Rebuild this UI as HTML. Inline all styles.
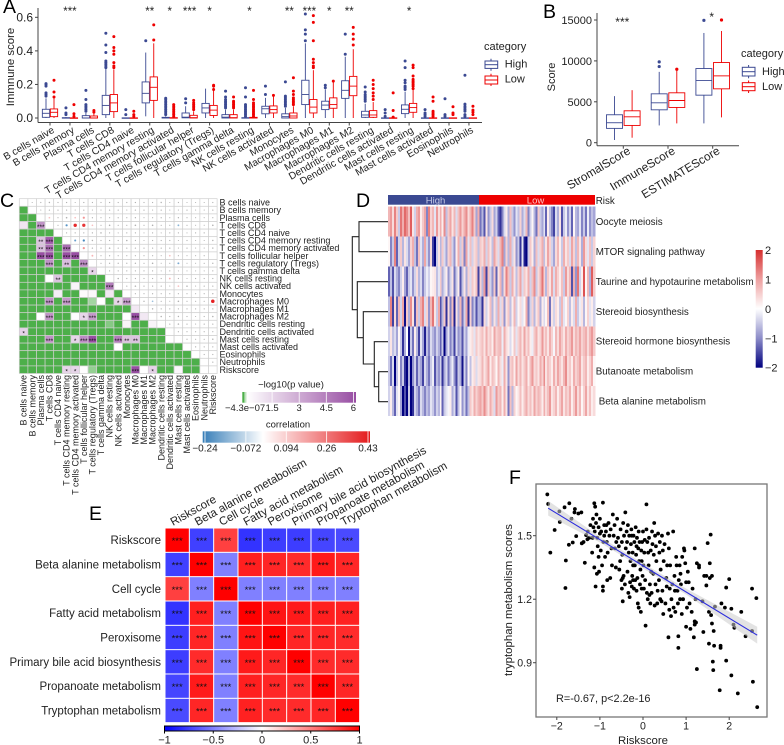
<!DOCTYPE html>
<html lang="en">
<head>
<meta charset="utf-8">
<title>Immune and metabolism panel figure</title>
<style>
html,body{margin:0;padding:0;background:#fff;}
body{width:784px;height:745px;overflow:hidden;}
svg{display:block;font-family:"Liberation Sans",Arial,sans-serif;filter:blur(0.3px);}
text{fill:#222;}
.letter{font-size:19.5px;fill:#000;}
</style>
</head>
<body>
<svg id="figure" xmlns="http://www.w3.org/2000/svg" width="784" height="745" viewBox="0 0 784 745">
  <defs>
    <linearGradient id="pGrad" x1="0" x2="1" y1="0" y2="0">
      <stop offset="0" stop-color="#4daf4a"/><stop offset="0.022" stop-color="#4daf4a"/><stop offset="0.04" stop-color="#ffffff"/><stop offset="1" stop-color="#984ea3"/>
    </linearGradient>
    <linearGradient id="corrGrad" x1="0" x2="1" y1="0" y2="0">
      <stop offset="0" stop-color="#377eb8"/><stop offset="0.36" stop-color="#ffffff"/><stop offset="1" stop-color="#e41a1c"/>
    </linearGradient>
    <linearGradient id="heatGrad" x1="0" x2="0" y1="0" y2="1">
      <stop offset="0" stop-color="#d62f2f"/><stop offset="0.25" stop-color="#eea0a0"/><stop offset="0.5" stop-color="#ffffff"/><stop offset="0.75" stop-color="#8c8cc8"/><stop offset="1" stop-color="#00007f"/>
    </linearGradient>
    <linearGradient id="eGrad" x1="0" x2="1" y1="0" y2="0">
      <stop offset="0" stop-color="#0000ff"/><stop offset="0.5" stop-color="#ffffff"/><stop offset="1" stop-color="#ff0000"/>
    </linearGradient>
  </defs>

  <text class="letter" x="3" y="13">A</text>
  <text class="letter" x="543" y="18">B</text>
  <text class="letter" x="0" y="207">C</text>
  <text class="letter" x="356" y="207">D</text>
  <text class="letter" x="89" y="520">E</text>
  <text class="letter" x="509" y="484">F</text>

  <g id="panelA">
    <line x1="38" y1="8" x2="38" y2="122.5" stroke="#444"/>
    <line x1="38" y1="122.5" x2="482" y2="122.5" stroke="#444"/>
    <text transform="translate(14,67) rotate(-90)" text-anchor="middle" font-size="11.4">Immnune score</text>
    <text x="484" y="50" font-size="11">category</text>
    <g>
      <line x1="491" x2="491" y1="58.7" y2="70.7" stroke="#3b4992"/><rect x="485" y="61" width="12.7" height="7.4" fill="#fff" stroke="#3b4992"/><line x1="485" x2="497.7" y1="64.7" y2="64.7" stroke="#3b4992"/>
      <text x="504.7" y="67.7" font-size="11">High</text>
    </g>
    <g>
      <line x1="491" x2="491" y1="73.7" y2="86" stroke="#ee0000"/><rect x="485" y="76" width="12.7" height="8" fill="#fff" stroke="#ee0000"/><line x1="485" x2="497.7" y1="80" y2="80" stroke="#ee0000"/>
      <text x="504.7" y="82.7" font-size="11">Low</text>
    </g>
  </g>

  <g id="panelB">
    <line x1="597" y1="13" x2="597" y2="145.7" stroke="#444"/>
    <line x1="597" y1="145.7" x2="739" y2="145.7" stroke="#444"/>
    <text transform="translate(555,77) rotate(-90)" text-anchor="middle" font-size="11">Score</text>
    <text x="741" y="57" font-size="11">category</text>
    <g>
      <line x1="748.6" x2="748.6" y1="65" y2="78.3" stroke="#3b4992"/><rect x="742.3" y="67.3" width="12.7" height="8.7" fill="#fff" stroke="#3b4992"/><line x1="742.3" x2="755" y1="71.7" y2="71.7" stroke="#3b4992"/>
      <text x="762" y="75" font-size="11">High</text>
    </g>
    <g>
      <line x1="748.6" x2="748.6" y1="80.5" y2="93" stroke="#ee0000"/><rect x="742.3" y="82.7" width="12.7" height="8" fill="#fff" stroke="#ee0000"/><line x1="742.3" x2="755" y1="86.7" y2="86.7" stroke="#ee0000"/>
      <text x="762" y="90" font-size="11">Low</text>
    </g>
  </g>

  <g id="panelC">
    <text x="291" y="387.7" text-anchor="middle" font-size="9.5">−log10(p value)</text>
    <rect x="242.3" y="392" width="113.7" height="10.7" fill="url(#pGrad)"/>
    <text x="288" y="427.7" text-anchor="middle" font-size="9.5">correlation</text>
    <rect x="202.7" y="431.3" width="167.3" height="11.4" fill="url(#corrGrad)"/>
  </g>

  <g id="panelD">
    <rect x="388" y="195" width="91" height="9.7" fill="#3b4992"/>
    <rect x="479" y="195" width="116" height="9.7" fill="#ee0000"/>
    <text x="435.5" y="203.5" text-anchor="middle" font-size="9.5" style="fill:#c8cce6">High</text>
    <text x="535.5" y="203.5" text-anchor="middle" font-size="9.5" style="fill:#ffc8c8">Low</text>
    <text x="595.7" y="204" font-size="9.8">Risk</text>
    <g fill="none" stroke="#222" stroke-width="1.1">
      <path d="M388 221.7H359V251.7H388"/>
      <path d="M388 371.7H378.7V401.7H388"/>
      <path d="M388 341.7H374.3V386.7H378.7"/>
      <path d="M388 311.7H363.3V364H374.3"/>
      <path d="M388 281.7H357.3V337.7H363.3"/>
      <path d="M359 236.7H352.3V309.7H357.3"/>
    </g>
    <rect x="755.7" y="250" width="7" height="117.7" fill="url(#heatGrad)"/>
  </g>

  <g id="panelE">
    <rect x="164.5" y="726" width="195" height="5" fill="url(#eGrad)" stroke="#000" stroke-width="1"/>
  </g>

  <g id="panelF">
    <rect x="536" y="484" width="231" height="233" fill="#fff" stroke="#777" stroke-width="1.3"/>
    <text x="643" y="744" text-anchor="middle" font-size="11.4">Riskscore</text>
    <text transform="translate(512,600) rotate(-90)" text-anchor="middle" font-size="11.4">tryptophan metabolism scores</text>
  </g>
  <text x="556" y="702" font-size="10.9">R=-0.67, p&lt;2.2e-16</text>
</svg>

<script>
// ---------- Panel A data ----------
const immuneCategories = ["B cells naive","B cells memory","Plasma cells","T cells CD8","T cells CD4 naive","T cells CD4 memory resting","T cells CD4 memory activated","T cells follicular helper","T cells regulatory (Tregs)","T cells gamma delta","NK cells resting","NK cells activated","Monocytes","Macrophages M0","Macrophages M1","Macrophages M2","Dendritic cells resting","Dendritic cells activated","Mast cells resting","Mast cells activated","Eosinophils","Neutrophils"];
const immuneTicks = [0, 0.2, 0.4, 0.6];
const immuneHighBoxes = [[0,.004,.028,.052,.117],[0,0,0,.002,.005],[0,0,0,.014,.03],[0,.02,.075,.135,.295],[0,0,0,.001,.002],[.01,.09,.147,.215,.39],[0,0,0,.004,.01],[0,.001,.005,.03,.07],[0,.03,.06,.087,.175],[0,0,.005,.02,.05],[0,0,0,.002,.005],[0,.025,.055,.07,.12],[0,0,.008,.025,.06],[0,.08,.14,.225,.445],[0,.05,.077,.1,.17],[0,.117,.165,.222,.365],[0,.004,.018,.04,.085],[0,0,0,.001,.002],[0,.026,.052,.078,.157],[0,0,0,.001,.002],[0,0,0,.001,.002],[0,0,0,.001,.002]];
const immuneLowBoxes = [[0,.008,.034,.054,.117],[0,0,0,.001,.002],[0,0,0,.012,.03],[0,.038,.09,.14,.29],[0,0,0,.001,.002],[0,.105,.183,.245,.445],[0,0,0,.002,.005],[0,0,.002,.016,.04],[0,.015,.047,.075,.18],[0,0,.002,.02,.05],[0,0,0,.004,.008],[0,.03,.05,.072,.13],[0,0,.012,.03,.07],[0,.03,.065,.11,.285],[0,.058,.08,.12,.22],[0,.133,.19,.248,.41],[0,.004,.018,.044,.095],[0,0,0,.001,.002],[0,.034,.062,.087,.167],[0,0,0,.001,.002],[0,0,0,.001,.002],[0,0,0,.001,.002]];
const immuneHighOutliers = [[.13,.14,.15,.19,.2,.205],[.02,.03,.06],[.04,.05,.06,.07,.08,.11,.165],[.3,.31,.32,.33,.34,.39,.435,.505],[.02,.05],[.46],[.02,.03,.04,.05,.06,.07,.08,.09,.1,.11,.118],[.09,.115],[],[.06,.07,.08,.09,.1,.11,.125,.16],[.01,.02,.03,.04,.05,.06,.07,.08,.125,.18],[.14,.19],[.07,.08,.09,.1,.11,.12,.13,.215],[.46,.5,.525,.62],[.18,.195],[.38,.5],[.1,.11,.12,.13,.14,.155,.185],[.01,.03,.05],[.17,.18,.19,.21,.225,.3,.34],[.01,.02,.03,.05],[.01,.02,.115],[.01,.02,.04,.05,.06,.07,.083,.255]];
const immuneLowOutliers = [[.125,.155,.225],[.01,.025,.08],[.035,.045],[.3,.31,.33,.38,.4,.42,.485],[.01,.02,.04],[.465,.555],[.01,.02,.03,.04,.05,.06,.07,.08],[.05,.06,.07,.08,.09,.105],[.17,.19,.195],[.06,.07,.08,.09,.1,.125],[.01,.02,.03,.04,.05,.06,.07,.08,.09,.11,.165],[.135],[.08,.09,.1,.11,.12,.14,.16,.24],[.3,.31,.33,.35,.46,.57,.61],[.22],[.435,.47,.5,.54],[.11,.13,.15,.175,.2,.225],[.005,.045,.15],[.175,.19,.2,.21,.22,.23,.25,.3,.315],[.01,.02,.03,.04,.1,.125],[.02,.03,.067],[.02,.035,.047,.07]];
const immuneStars = ["","***","","","","**","*","***","*","","*","","**","***","*","**","","","*","","",""];

// ---------- Panel B data ----------
const scoreCategories = ["StromalScore","ImmuneScore","ESTIMATEScore"];
const scoreTicks = [0, 5000, 10000, 15000];
const scoreHighBoxes = [[325,1750,2440,3415,5690],[2110,4020,4880,5975,8660],[2360,5810,7600,9065,13415]];
const scoreLowBoxes = [[610,2110,3170,3900,6420],[2360,4310,5160,6100,8985],[3090,6585,8170,9800,13660]];
const scoreHighOutliers = [[],[9310,9880],[14960]];
const scoreLowOutliers = [[],[8985],[15000]];
const scoreStars = ["***","","*"];

// ---------- Panel C data ----------
const matrixLabels = immuneCategories.concat(["Riskscore"]);
const logPValues = [[],[0],[0,0],[1.1,0,3.8],[0,0,0,0],[0,0,2.2,5.5,0],[0,0,2.3,5,0,5],[0,0,6,6,0,6,6],[0,0,0,3.8,0,2.4,0,4],[0,0,0,0,0,0,0,0,1.6],[0,0,0,.25,2.2,0,0,0,0,0],[0,0,0,0,0,0,.6,0,0,0,4.5],[0,0,0,0,.8,0,0,.4,.5,0,1,0],[0,0,0,3.8,0,3.6,0,0,.12,.25,0,1.6,3.5],[0,0,0,0,0,0,0,0,0,0,0,0,0,1],[0,0,.25,3.8,0,0,.3,1.6,3.6,0,0,0,.25,6,1],[0,0,0,0,0,0,0,0,0,0,.08,0,.6,0,0,.6],[1.7,0,0,0,0,0,0,0,0,0,0,0,0,0,0,0,0],[0,0,0,3.8,0,0,1.6,4,6,0,0,4.5,2.2,2.2,0,0,0,.25],[0,0,0,0,0,0,0,0,0,0,0,.25,0,0,0,0,0,0,0],[0,0,0,0,0,0,0,0,0,0,0,0,0,0,0,0,0,0,0,0],[0,0,0,0,0,0,0,0,0,0,0,0,0,0,0,0,0,0,0,0,0],[0,0,0,0,0,1.6,1.6,.3,.1,0,0,0,0,6,.25,1.7,0,0,.5,0,0,.25]];
const cellCorrelations = [
 [.02,.03,.08,.03,.05,.02,.05,.03,.03,.06,.03,.04,.06,.03,.03,.07,.02,.03,.02,.02,.02,.03],
 [.02,.04,.03,.03,.02,.04,.02,.02,.04,.03,.02,.05,.03,.02,.04,.02,.02,.03,.02,.02,.03],
 [.12,.03,.1,.12,.2,.04,.03,.03,.04,.03,.05,.02,.03,.04,.02,.05,.03,.02,.02,.03],
 [.03,-.2,.4,.38,.12,.03,.09,.03,.03,.1,.03,.1,.03,.03,-.14,.03,.02,.02,.1],
 [.03,.04,.03,.05,.09,.03,.02,.03,.04,.02,.03,.02,.03,.03,.02,.03,.04],
 [-.18,-.22,.08,.03,.05,.03,.1,.03,.02,.03,.03,.04,.02,.03,.02,.02,.07],
 [.2,.05,.03,.09,.03,.03,.04,.03,.03,.03,.05,.02,.03,.02,.02,.06],
 [.14,.03,.04,.03,.03,.03,.03,.03,.02,.12,.03,.02,.02,.03],
 [.03,.05,.05,.04,.07,.03,.1,.02,.03,-.16,.02,.02,.03,.06],
 [.03,.03,.03,.03,.03,.03,.02,.03,.02,.02,.02,.02,.03],
 [.1,.03,.04,.03,.03,.03,.14,.03,.02,.03,.03,.04],
 [.03,.09,.03,.03,.03,.02,.12,.09,.02,.03,.03],
 [.03,.03,.04,.03,.03,.03,.03,.02,.03,.05],
 [.07,-.12,.03,.02,.1,.03,.03,.03,.42],
 [.08,.03,.03,.03,.03,.03,.03,.05],
 [.09,.03,.07,.03,.02,.03,.09],
 [.03,.08,.03,.02,.03,.03],
 [.03,.03,.03,.03,.03],
 [.04,.03,.03,.08],
 [.05,.03,.03],
 [.03,.03],
 [.04],
 []
];
const pLegendTicks = [0, 1.5, 3, 4.5, 6];
const pLegendLabels = ["−4.3e−07","1.5","3","4.5","6"];
const corrLegendTicks = [-0.24, -0.072, 0.094, 0.26, 0.43];
const corrLegendLabels = ["−0.24","−0.072","0.094","0.26","0.43"];

// ---------- Panel D data ----------
const pathwayLabels = ["Oocyte meiosis","MTOR signaling pathway","Taurine and hypotaurine metabolism","Stereoid biosynthesis","Stereoid hormone biosynthesis","Butanoate metabolism","Beta alanine metabolism"];
const heatTicks = [2, 1, 0, -1, -2];
const oocyteRow = [.8,1.1,.4,1.3,.6,-.6,1.4,.9,1.5,1.2,.7,1.6,.3,-.5,.9,1.1,.2,.6,1,-1.2,1.3,.5,.8,-.3,1.1,.4,.9,.2,1.2,-.7,.6,1,.3,.8,-.4,.7,1.1,.5,.9,1.2,.4,.8,1.3,.6,-1,.9,
 -1.3,-.8,-1.5,.3,-1.1,-.6,.4,-1,-.5,-1.4,-1.7,-1.2,-.4,.2,-.9,.7,-.6,-1.1,-.3,-.7,.5,-.9,-.4,.8,-1.2,-.5,.1,-.8,-1.3,.6,-.6,-1,-.3,-1.4,.2,-.7,-1.2,-1.6,-.4,-.9,.3,-1.5,-.6,-.2,-1.1,-.5,-1.4,.1,-.8,-1,-.3,-1.2,-.6,-1.3,-.2,-1.1,-.7,-1];
const mtorRow = [.1,-1.2,-.6,1.3,-1.4,-.5,.6,-.8,.3,-.4,-1,.5,.9,-.7,-1.3,.7,-.3,-.9,1,-.5,-1.1,.4,-1.6,-2,-.6,.3,-.8,.6,-.4,-1,.5,.8,-.5,-1.1,.2,.9,-.6,.6,-1.2,1,-.3,.7,-.5,.4,.6,-.7,
 .6,.4,.9,-.5,.7,.3,-.7,1,.5,-.4,.8,1.3,-1,.5,-.8,.9,-.5,.3,-1.1,-.6,-1.7,-.3,-1.8,-2,-.6,.6,.2,-.9,.7,-.4,.5,.9,-.7,.3,1,.5,-.5,-1,.4,.8,.2,-.6,.9,.3,.6,-.4,1,.5,-.7,.8,.3,-.9,1.1,.4,-.3,.7,-.6,.5];
const taurineRow = [-1.4,-.7,-1.5,-.4,-.9,-1.2,-.5,.2,-1,-1.4,-.6,-.3,-1.1,-.5,.4,-.8,-.4,-1.2,-.6,-.2,-.5,.1,.2,.3,-.7,-.3,.6,-.9,-.4,.2,-1.1,-.5,.3,-1.3,-.6,.2,-1.5,-.7,.3,-.9,.5,-.4,.6,.3,.7,-1.6,
 .5,-.8,1.1,-1.6,.7,-.5,-1.1,.6,-1.4,.3,.8,-1,.4,1.3,.7,-.6,.9,.3,-.7,.5,1,-.4,.6,.3,.9,-.5,.7,1.2,-.6,.4,.8,1.4,.5,-.8,.6,.3,1,-.4,.9,.5,.2,.7,-.6,1.1,.4,.8,-1.5,.9,-1.1,1.4,-.5,.2,1.7,.1,.8,-.9,1.6,.6];
const steroidRow = [-.7,1.3,-1.6,.4,-1.4,.8,-.5,1,-1.9,.6,-.9,1.2,.3,-1.5,.7,-.6,.9,1.3,-.4,.5,-1.1,.8,1.4,.3,-.6,1,-1.5,-.8,.6,-1.7,.4,-1.2,.7,-1.8,.3,-.9,.8,-1.3,-.5,1,-1.7,.5,-1.2,-.6,-1.5,-.8,
 -.9,-1.7,.4,-.5,.2,.7,-.8,.3,-.6,.9,-.4,.5,-1.1,.3,.6,-.7,.2,.8,-.5,.1,.4,-.3,.1,.9,-1.2,-.5,.5,-.8,.3,.6,-.9,.2,-.4,.1,.7,-1.3,.3,-.5,.4,.2,-.6,.8,-.3,.1,.5,-.7,.2,-.4,.9,-.6,-.2,.3,-.8,.1,.5,-.3,.2,-.5];
const hormoneRow = [-.5,.3,-.7,-.4,-1,.1,-.6,-1.7,-.9,0,-1.9,-.6,-1.3,.2,-.8,-1.6,-.3,-1,-1.8,-.7,-1.2,-.4,-.8,-1.1,-.5,-.9,-1.4,-.6,-2,-1,-.3,-1.2,-.7,-1.6,-.4,-1.1,-.8,-1.5,-.5,-1,-.2,.2,.4,-.3,.6,.3,
 .5,.7,.3,.9,.4,.6,.2,1,.5,.7,.8,-.2,.9,.4,.2,-.4,.1,.6,-.3,.5,.8,.3,1,.4,.7,.2,-.2,.6,.9,.3,.5,1.1,.4,.7,.3,.9,.5,-.1,.8,.4,1,.6,.3,.9,.5,.7,1.1,.4,.8,.6,1,.5,.7,.9,.4,.8,1.1,.6];
const butanoateRow = [-.6,-1.3,-.4,-2,-.7,.1,-1.2,-.6,-1.7,-2,-.9,-2,-1.1,-.5,-1.4,-.7,-1,-1.6,-.4,-.9,-1.3,-.6,-.2,-1.5,-.8,-1.1,-.5,-1.7,-.9,-.4,-1.3,-.7,-.2,-1.1,-1.6,-.6,-.9,-1.9,-.5,-1.2,.1,-.7,.2,.4,-.4,.3,
 .4,.8,.3,.6,1,.2,.7,.5,.1,.8,.4,-.2,.9,.3,-1.1,.5,.7,.2,1,.4,.8,.3,.6,.9,.2,.7,1.1,.4,.6,.3,.9,.5,1.2,.3,.7,.5,.2,.9,.4,1,.6,.3,.8,1.2,.4,.6,.2,.9,.5,.7,1,.3,.6,.8,.2,.5,.9,.1];
const betaAlanineRow = [-.5,.2,-.8,-1.4,-.3,.1,-1,-2,-1.5,-2,-.6,-2,-1.7,-.5,-.9,-1.3,-.4,-.8,-1.2,-.7,-1,-.3,-.6,-1.1,-.5,-.8,.1,-1.4,-.6,-.3,-.1,.2,-.9,-.4,-1.5,-.7,.1,-1.1,-.5,-1.3,-.7,.6,.3,.9,.5,.8,
 1,.6,1.2,.7,.3,.9,.5,-.4,1.1,.6,.8,.2,.9,.3,-1.3,.7,-.8,.5,.1,.3,.7,.2,.6,.9,.4,.7,.3,1,.5,.8,.6,.2,.9,.4,.7,1.1,.3,.5,.8,.2,.6,1,.3,.7,.5,.9,.2,.6,1.1,.4,.8,.1,.5,1,.3,.7,.2,.4];
const pathwayRows = [oocyteRow, mtorRow, taurineRow, steroidRow, hormoneRow, butanoateRow, betaAlanineRow];

// ---------- Panel E data ----------
const metabolismLabels = ["Riskscore","Beta alanine metabolism","Cell cycle","Fatty acid metabolism","Peroxisome","Primary bile acid biosynthesis","Propanoate metabolism","Tryptophan metabolism"];
const metabolismCorr = [
 [1,-.75,.75,-.8,-.76,-.76,-.73,-.71],
 [-.75,1,-.5,.88,.85,.83,.9,.85],
 [.75,-.5,1,-.5,-.5,-.5,-.5,-.5],
 [-.8,.88,-.5,1,.92,.9,.88,.87],
 [-.76,.85,-.5,.92,1,.85,.85,.83],
 [-.76,.83,-.5,.9,.85,1,.83,.83],
 [-.73,.9,-.5,.88,.85,.83,1,.85],
 [-.71,.85,-.5,.87,.83,.83,.85,1]
];
const metabolismLegendTicks = [-1, -0.5, 0, 0.5, 1];

// ---------- Panel F data ----------
const riskTicks = [-2, -1, 0, 1, 2];
const tryptophanTicks = [0.9, 1.2, 1.5];
const fitX = [-2.2, 2.65];
const fitY = [1.63, 1.03];
const ribbonX = [-2.2, -1, 0, 1, 2.65];
const ribbonLow = [1.595, 1.468, 1.345, 1.222, 0.99];
const ribbonHigh = [1.665, 1.495, 1.37, 1.25, 1.07];
const scatterPairs = [[-2.22,1.695],[-2.2,1.65],[-1.94,1.615],[-1.93,1.565],[-1.82,1.634],[-1.71,1.653],[-1.66,1.58],[-1.58,1.626],[-1.59,1.61],[-1.5,1.605],[-1.43,1.61],[-2.05,1.527],[-2.15,1.42],[-1.79,1.383],[-1.8,1.253],[-1.72,1.457],[-1.63,1.468],[-1.55,1.498],[-1.42,1.464],[-1.38,1.47],[-1.35,1.372],[-1.32,1.503],[-1.29,1.483],[-1.13,1.653],[-1.11,1.637],[-.93,1.656],[.08,1.648],
[-1.28,1.52],[-1.25,1.49],[-1.22,1.55],[-1.18,1.42],[-1.17,1.49],[-1.16,1.58],[-1.15,1.54],[-1.13,1.35],[-1.12,1.52],[-1.1,1.26],[-1.09,1.56],[-1.08,1.6],[-1.07,1.32],[-1.06,1.49],[-1.05,1.45],[-1.03,1.4],[-1.03,1.54],[-1.02,1.33],[-1,1.58],[-1,1.51],
[-.98,1.43],[-.97,1.52],[-.95,1.36],[-.93,1.24],[-.93,1.26],[-.92,1.47],[-.9,1.55],[-.9,1.5],[-.88,1.4],[-.86,1.52],[-.84,1.47],[-.83,1.29],[-.82,1.42],[-.8,1.56],[-.78,1.5],[-.76,1.3],[-.75,1.53],[-.73,1.44],[-.72,1.36],[-.7,1.6],
[-.68,1.5],[-.66,1.55],[-.65,1.44],[-.63,1.35],[-.6,1.58],[-.58,1.49],[-.56,1.45],[-.55,1.34],[-.52,1.53],[-.5,1.29],[-.49,1.25],[-.49,1.47],[-.48,1.41],[-.47,1.19],[-.46,1.56],[-.45,1.31],[-.44,1.5],[-.42,1.27],[-.41,1.61],[-.4,1.44],
[-.38,1.52],[-.37,1.47],[-.36,1.33],[-.35,1.55],[-.33,1.42],[-.32,1.5],[-.31,1.21],[-.3,1.28],[-.29,1.38],[-.28,1.46],[-.27,1.53],[-.26,1.26],[-.25,1.31],[-.24,1.42],[-.23,1.29],[-.22,1.5],[-.21,1.25],[-.2,1.47],[-.19,1.36],[-.18,1.29],[-.17,1.54],[-.16,1.41],[-.15,1.24],[-.14,1.49],[-.13,1.3],[-.12,1.18],[-.11,1.44],[-.1,1.16],
[-.09,1.38],[-.08,1.47],[-.07,1.27],[-.06,1.34],[-.05,1.14],[-.04,1.43],[-.03,1.25],[-.02,1.47],[-.01,1.31],[0,1.52],[.01,1.36],[.02,1.25],[.03,1.42],[.05,1.29],[.06,1.075],[.08,1.53],[.09,1.23],[.1,1.47],[.11,1.2],[.13,1.36],[.14,1.49],[.15,1.22],[.17,1.18],[.18,1.43],[.19,1.33],[.2,1.23],[.21,1.52],[.22,1.46],[.24,1.32],[.25,1.41],[.26,1.56],[.27,1.17],[.29,1.27],[.3,1.45],[.31,1.38],[.33,1.18],[.35,1.51],[.37,1.29],[.38,1.42],[.39,1.47],[.4,1.2],[.41,1.34],[.43,1.19],[.44,1.5],[.45,1.24],[.47,1.13],[.48,1.38],[.5,1.46],[.52,1.18],[.54,1.3],[.56,1.36],[.58,1.51],[.59,1.02],[.6,1.44],[.61,1.15],[.62,1.25],[.63,1.36],[.65,1.12],[.66,1.2],[.68,1.27],[.7,1.52],[.71,1.16],[.73,1.31],[.75,1.14],[.77,1.4],[.78,1.36],[.8,1.24],[.81,1.18],[.82,1.025],[.82,.97],[.83,1.29],[.85,1.36],[.86,1.2],[.88,1.27],[.9,1.13],[.91,1.4],[.93,1.2],[.95,1.44],[.96,1.43],[.98,1.37],[1,1.07],[1,1.28],[1.02,1.16],[1.04,1.33],[1.06,1.28],[1.08,1.18],[1.1,1.06],[1.13,1.14],[1.15,1.25],[1.18,1.02],[1.2,1.44],[1.2,1.08],[1.2,1.095],[1.22,1.2],[1.23,1.09],[1.25,1.37],[1.25,.87],[1.3,1.35],[1.3,1.36],[1.38,1.19],[1.4,1.045],[1.42,1.31],[1.47,1.31],[1.47,1.265],[1.5,1.465],[1.53,.99],[1.53,1.14],[1.55,1.37],[1.55,1.3],[1.57,1.505],[1.58,1.125],[1.6,1.085],[1.6,1.31],[1.62,.905],[1.63,.865],[1.64,1.05],[1.65,.98],[1.67,1.165],[1.78,.77],[1.8,.98],[1.8,.97],[1.82,1.18],[1.9,1.16],[1.93,.91],[1.93,1.255],[2,1.295],[2.05,1.155],[2.05,.84],[2.1,1.08],[2.12,1.065],[2.2,.755],[2.28,1.14],[2.38,1.025],[2.53,1.05],[2.53,1.25],[2.55,.81],[2.63,1.205],[2.65,.69],
[-.85,1.55],[-.62,1.47],[-.53,1.38],[-.47,1.3],[-.34,1.23],[-.26,1.5],[-.23,1.36],[-.15,1.45],[-.1,1.52],[-.03,1.38],[.04,1.48],[.12,1.42],[.16,1.27],[.28,1.5],[.34,1.24],[.46,1.43],[.55,1.26],[.74,1.24],[.87,1.32]];

// ---------- Rendering ----------
const NS = "http://www.w3.org/2000/svg";
function mk(tag, attrs, parent, text) {
  const node = document.createElementNS(NS, tag);
  for (const k in attrs) node.setAttribute(k, attrs[k]);
  if (text !== undefined) node.textContent = text;
  parent.appendChild(node);
  return node;
}
function lerpStops(stops, v) {
  if (v <= stops[0][0]) return rgb(stops[0][1]);
  for (let i = 1; i < stops.length; i++) {
    if (v <= stops[i][0]) {
      const t = (v - stops[i-1][0]) / (stops[i][0] - stops[i-1][0]);
      return rgb(stops[i-1][1].map((c, j) => c + (stops[i][1][j] - c) * t));
    }
  }
  return rgb(stops[stops.length-1][1]);
}
function rgb(c) { return "rgb(" + c.map(Math.round).join(",") + ")"; }

const HIGH = "#3b4992", LOW = "#ee0000";
const panelA = document.getElementById("panelA");
const panelB = document.getElementById("panelB");
const panelC = document.getElementById("panelC");
const panelD = document.getElementById("panelD");
const panelE = document.getElementById("panelE");
const panelF = document.getElementById("panelF");
const xA = i => 50 + i * 19.95;
const yA = v => 118 - v * 167.8;
const xB = i => 623.3 + i * 44.7;
const yB = v => 142.7 - v * 40.9 / 5000;

function drawBox(parent, cx, w, stats, outliers, color, yf, outR) {
  const g = mk("g", {}, parent);
  
  
  const whisker = mk("line", {x1: cx, x2: cx, y1: yf(stats[0]), y2: yf(stats[4]), stroke: color, "stroke-width": 0.9}, g);
  
  
  const box = mk("rect", {x: cx - w/2, y: yf(stats[3]), width: w, height: Math.max(0.5, yf(stats[1]) - yf(stats[3])), fill: "#fff", stroke: color, "stroke-width": 0.9}, g);
  
  
  const median = mk("line", {x1: cx - w/2, x2: cx + w/2, y1: yf(stats[2]), y2: yf(stats[2]), stroke: color, "stroke-width": 0.9}, g);
  
  
  outliers.forEach(o => {
    const dot = mk("circle", {cx: cx, cy: yf(o), r: outR, fill: color}, g);
    
    
  });
}

// Panel A
immuneTicks.forEach(v => {
  const t = mk("line", {x1: 35, x2: 38, y1: yA(v), y2: yA(v), stroke: "#444"}, panelA);
  
  
  const l = mk("text", {x: 33, y: yA(v) + 4.2, "text-anchor": "end", "font-size": 12}, panelA, v.toFixed(1));
  
  
});
immuneCategories.forEach((cat, i) => {
  const cx = xA(i);
  drawBox(panelA, cx - 4, 7.3, immuneHighBoxes[i], immuneHighOutliers[i], HIGH, yA, 1.5);
  drawBox(panelA, cx + 4, 7.3, immuneLowBoxes[i], immuneLowOutliers[i], LOW, yA, 1.5);
  const t = mk("line", {x1: cx, x2: cx, y1: 122.5, y2: 125.5, stroke: "#444"}, panelA);
  
  
  const l = mk("text", {transform: "translate(" + (cx + 5) + ",132) rotate(-30)", "text-anchor": "end", "font-size": 10.1}, panelA, cat);
  
  
  if (immuneStars[i]) {
    const s = mk("text", {x: cx, y: 15, "text-anchor": "middle", "font-size": 11.5}, panelA, immuneStars[i]);
    
    
  }
});

// Panel B
scoreTicks.forEach(v => {
  const t = mk("line", {x1: 594, x2: 597, y1: yB(v), y2: yB(v), stroke: "#444"}, panelB);
  
  
  const l = mk("text", {x: 592, y: yB(v) + 4, "text-anchor": "end", "font-size": 11}, panelB, String(v));
  
  
});
scoreCategories.forEach((cat, i) => {
  const cx = xB(i);
  drawBox(panelB, cx - 8.8, 16, scoreHighBoxes[i], scoreHighOutliers[i], HIGH, yB, 1.6);
  drawBox(panelB, cx + 8.8, 16, scoreLowBoxes[i], scoreLowOutliers[i], LOW, yB, 1.6);
  const t = mk("line", {x1: cx, x2: cx, y1: 145.7, y2: 148.7, stroke: "#444"}, panelB);
  
  
  const l = mk("text", {transform: "translate(" + (cx + 8) + ",153) rotate(-31)", "text-anchor": "end", "font-size": 11.8}, panelB, cat);
  
  
  if (scoreStars[i]) {
    const s = mk("text", {x: cx - 1, y: i === 2 ? 21 : 26, "text-anchor": "middle", "font-size": 12}, panelB, scoreStars[i]);
    
    
  }
});

// Panel C
const cX0 = 19.3, cY0 = 198.7, cW = 8.6, cH = 7.6;
const xC = i => cX0 + i * cW;
const yC = i => cY0 + i * cH;
const pColor = v => lerpStops([[0,[77,175,74]],[0.25,[255,255,255]],[6,[152,78,163]]], v);
const corrColor = v => lerpStops([[-0.24,[55,126,184]],[0,[255,255,255]],[0.43,[228,26,28]]], v);
const gC = mk("g", {}, panelC);


matrixLabels.forEach((lab, r) => {
  for (let c = 0; c < matrixLabels.length; c++) {
    const lower = c < r;
    const fill = lower ? pColor(logPValues[r][c]) : "#fff";
    const cell = mk("rect", {x: xC(c), y: yC(r), width: cW, height: cH, fill: fill, stroke: "#cfcfcf", "stroke-width": 0.7}, gC);
    
    
    if (lower) {
      const v = logPValues[r][c];
      const mark = v >= 3 ? "***" : v >= 2 ? "**" : v >= 1.3 ? "*" : "";
      if (mark) {
        const s = mk("text", {x: xC(c) + cW/2, y: yC(r) + cH/2 + 3.6, "text-anchor": "middle", "font-size": 6.5, style: "fill:#111"}, gC, mark);
        
        
      }
    } else if (c > r) {
      const v = cellCorrelations[r][c - r - 1];
      const dot = mk("circle", {cx: xC(c) + cW/2, cy: yC(r) + cH/2, r: 0.5 + Math.abs(v) * 3, fill: Math.abs(v) < 0.11 ? "#b0b0b0" : corrColor(v)}, gC);
      
      
    }
  }
  const rl = mk("text", {x: 219.5, y: yC(r) + cH/2 + 3.1, "font-size": 9}, panelC, lab);
  
  
  const cl = mk("text", {transform: "translate(" + (xC(r) + cW/2 + 3.1) + ",375) rotate(-90)", "text-anchor": "end", "font-size": 9}, panelC, lab);
  
  
});
const xPLegend = v => 245 + (v / 6) * 108.4;
pLegendTicks.forEach((v, i) => {
  const t = mk("line", {x1: xPLegend(v), x2: xPLegend(v), y1: 392, y2: 402.7, stroke: "#fff", "stroke-width": 0.8}, panelC);
  
  
  const l = mk("text", i === 0 ? {x: 225, y: 411, "font-size": 9.5} : {x: xPLegend(v), y: 411, "text-anchor": "middle", "font-size": 9.5}, panelC, pLegendLabels[i]);
  
  
});
const corrLegendPos = v => 205 + ((v + 0.24) / 0.67) * 163;
corrLegendTicks.forEach((v, i) => {
  const t = mk("line", {x1: corrLegendPos(v), x2: corrLegendPos(v), y1: 431.3, y2: 442.7, stroke: "#fff", "stroke-width": 0.8}, panelC);
  
  
  const l = mk("text", {x: corrLegendPos(v), y: 451.7, "text-anchor": "middle", "font-size": 10}, panelC, corrLegendLabels[i]);
  
  
});

// Panel D
const dX0 = 388, dW = 207, dY0 = 206.7, dRowH = 29.9;
const heatColor = v => lerpStops([[-2,[0,0,127]],[-1,[165,165,215]],[0,[255,255,255]],[1,[238,165,165]],[2,[214,47,47]]], v);
const gD = mk("g", {"shape-rendering": "crispEdges"}, panelD);


pathwayRows.forEach((row, r) => {
  const w = dW / row.length;
  row.forEach((v, c) => {
    const cell = mk("rect", {x: dX0 + c * w, y: dY0 + r * dRowH, width: w + 0.3, height: dRowH, fill: heatColor(v)}, gD);
    
    
  });
  const l = mk("text", {x: r === 6 ? 598.7 : 595.7, y: dY0 + r * dRowH + dRowH/2 + 3.4, "font-size": 9.8}, panelD, pathwayLabels[r]);
  
  
});
const yHeatLegend = v => 308.85 - v * 29.4;
heatTicks.forEach(v => {
  const l = mk("text", {x: 765, y: yHeatLegend(v) + 4, "font-size": 11}, panelD, String(v).replace("-", "−"));
  
  
});

// Panel E
const eX0 = 165, eY0 = 528, ePitch = 24.33;
const eColor = v => lerpStops([[-1,[0,0,255]],[0,[255,255,255]],[1,[255,0,0]]], v);
metabolismLabels.forEach((lab, r) => {
  metabolismLabels.forEach((_, c) => {
    const cell = mk("rect", {x: eX0 + c * ePitch + 0.5, y: eY0 + r * ePitch + 0.5, width: ePitch - 1, height: ePitch - 1, fill: eColor(metabolismCorr[r][c])}, panelE);
    
    
    const s = mk("text", {x: eX0 + c * ePitch + ePitch/2, y: eY0 + r * ePitch + ePitch/2 + 4, "text-anchor": "middle", "font-size": 9.5, style: "fill:#111"}, panelE, "***");
    
    
  });
  const rl = mk("text", {x: 161, y: eY0 + r * ePitch + ePitch/2 + 4, "text-anchor": "end", "font-size": 11.5}, panelE, lab);
  
  
  const cl = mk("text", {transform: "translate(" + (eX0 + r * ePitch + 8) + ",526) rotate(-29)", "font-size": 11.5}, panelE, lab);
  
  
});
const xELegend = v => 262 + v * 97.5;
metabolismLegendTicks.forEach(v => {
  const t = mk("line", {x1: xELegend(v), x2: xELegend(v), y1: 731, y2: 733.5, stroke: "#000"}, panelE);
  
  
  const l = mk("text", {x: xELegend(v), y: 743.5, "text-anchor": "middle", "font-size": 11}, panelE, String(v).replace("-", "−"));
  
  
});

// Panel F
const xF = v => 643 + v * 43.1;
const yF = v => 535.7 + (1.5 - v) * 211.7;
riskTicks.forEach(v => {
  const t = mk("line", {x1: xF(v), x2: xF(v), y1: 717, y2: 720, stroke: "#444"}, panelF);
  
  
  const l = mk("text", {x: xF(v), y: 729.5, "text-anchor": "middle", "font-size": 10.6}, panelF, String(v).replace("-", "−"));
  
  
});
tryptophanTicks.forEach(v => {
  const t = mk("line", {x1: 533, x2: 536, y1: yF(v), y2: yF(v), stroke: "#444"}, panelF);
  
  
  const l = mk("text", {x: 532, y: yF(v) + 3.8, "text-anchor": "end", "font-size": 10.6}, panelF, v.toFixed(1));
  
  
});
scatterPairs.forEach(p => {
  const dot = mk("circle", {cx: xF(p[0]), cy: yF(p[1]), r: 1.9, fill: "#000"}, panelF);
  
  
});
const ribbonPts = ribbonX.map((x, i) => xF(x) + "," + yF(ribbonHigh[i])).concat(ribbonX.map((x, i) => xF(x) + "," + yF(ribbonLow[i])).reverse()).join(" ");
const ribbon = mk("polygon", {points: ribbonPts, fill: "#cccccc", "fill-opacity": 0.55}, panelF);


const fit = mk("line", {x1: xF(fitX[0]), y1: yF(fitY[0]), x2: xF(fitX[1]), y2: yF(fitY[1]), stroke: "#2b2bdd", "stroke-width": 1.1}, panelF);


</script>
</body>
</html>
